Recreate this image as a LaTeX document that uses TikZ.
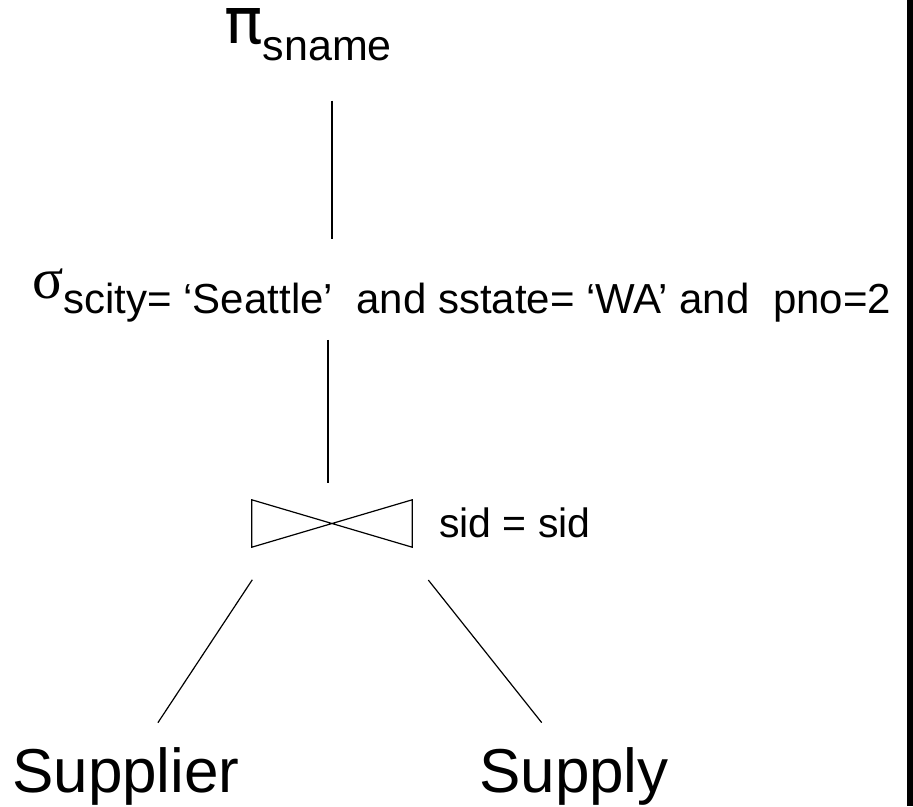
\documentclass[tikz,border=0pt]{standalone}
\usepackage{fontspec}
\setmainfont{Liberation Sans}
\newfontfamily\greekfont{Liberation Serif}
\newfontfamily\pifont{DejaVu Sans}
\usetikzlibrary{positioning}

\begin{document}
\begin{tikzpicture}[x=1pt, y=-1pt,
    lbl/.style={inner sep=0, anchor=base west},
    edge/.style={line width=1.2pt}]
  \useasboundingbox (0,0) rectangle (913,806);
  \fill (907,0) rectangle (913,806);
  \node [lbl] (proj) at (224,43) {{\fontsize{64}{64}\pifont π}\fontsize{43}{43}\selectfont\raisebox{-17pt}{sname}};
  \node [lbl] (sel) at (32,298) {{\fontsize{58}{58}\greekfont σ}\fontsize{42}{42}\selectfont\raisebox{-15pt}{scity= ‘Seattle’~ and sstate= ‘WA’ and~ pno=2}};
  \node [minimum width=160pt, minimum height=47pt, inner sep=0] (join) at (332,523.5) {};
  \draw [edge] (join.north west) -- (join.south east) -- (join.north east) -- (join.south west) -- cycle;
  \node [lbl] (cond) at (439,537) {\fontsize{41}{41}\selectfont sid = sid};
  \node [lbl] (supp) at (12,792) {\fontsize{62}{62}\selectfont Supplier};
  \node [lbl] (sply) at (479,792) {\fontsize{62}{62}\selectfont Supply};
  %TODO: check gaps
  \draw [edge, shorten <=40pt, shorten >=29pt] (proj.south -| join) -- (sel.north -| join);
  \draw [edge, shorten <=18pt, shorten >=17pt] ([xshift=-4pt]sel.south -| join) -- ([xshift=-4pt]join.north);
  \draw [edge, shorten <=39pt, shorten >=29pt] ([xshift=22pt]join.south west) -- ([xshift=16pt]supp.north);
  \draw [edge, shorten <=42pt, shorten >=31pt] ([xshift=-10pt]join.south east) -- ([xshift=-13pt]sply.north);
\end{tikzpicture}
\end{document}
